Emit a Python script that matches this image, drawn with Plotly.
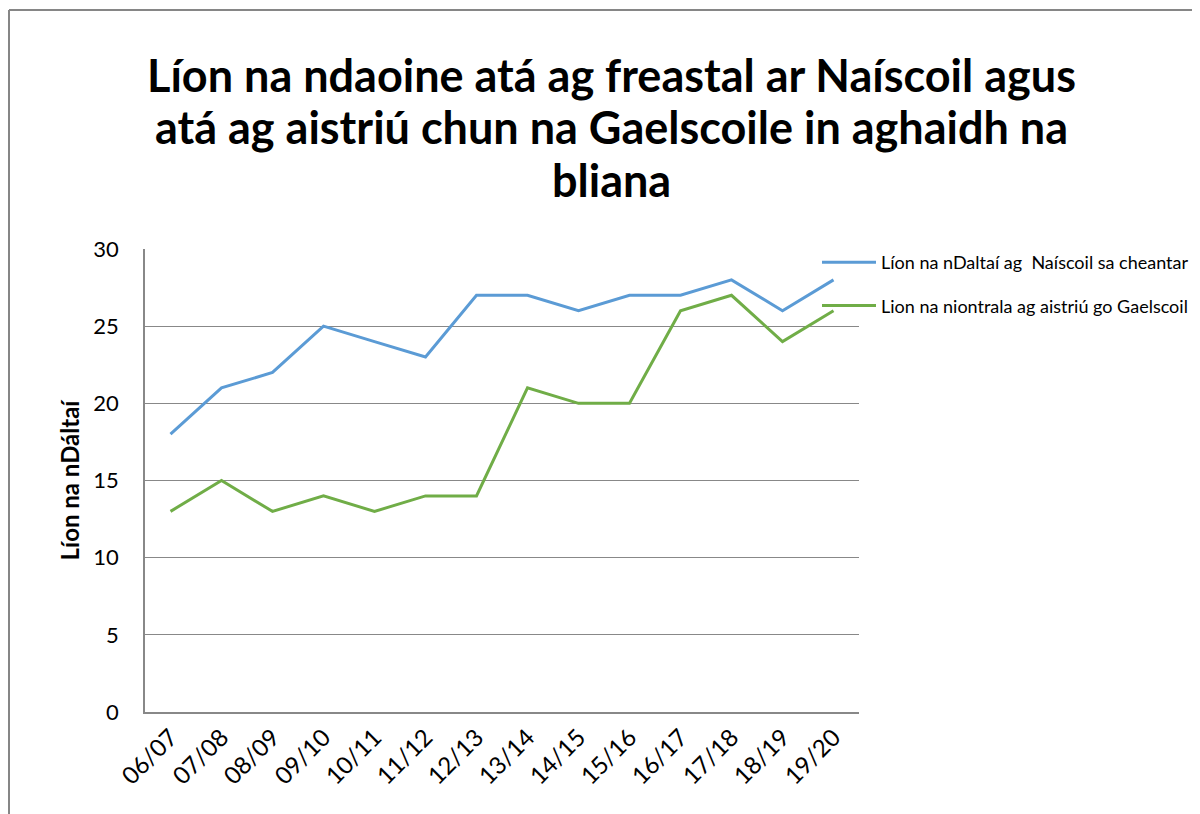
import plotly.graph_objects as go

years = ["06/07", "07/08", "08/09", "09/10", "10/11", "11/12", "12/13",
         "13/14", "14/15", "15/16", "16/17", "17/18", "18/19", "19/20"]
naiscoil = [18, 21, 22, 25, 24, 23, 27, 27, 26, 27, 27, 28, 26, 28]
aistriu = [13, 15, 13, 14, 13, 14, 14, 21, 20, 20, 26, 27, 24, 26]
y_ticks = [0, 5, 10, 15, 20, 25, 30]
title_lines = ["Líon na ndaoine atá ag freastal ar Naíscoil agus",
               "atá ag aistriú chun na Gaelscoile in aghaidh na",
               "bliana"]

# page has an 8px body margin, so figure coords = page coords - 8
W, H = 1192, 806
L, T = 137, 241
R, B = W - 851, H - 704
pw, ph = W - L - R, H - T - B

FONT = "Lato"

fig = go.Figure()
fig.add_trace(go.Scatter(x=years, y=naiscoil, mode="lines",
                         name="Líon na nDaltaí ag  Naíscoil sa cheantar",
                         legendgroup="a",
                         line=dict(color="#5B9BD5", width=3)))
fig.add_trace(go.Scatter(x=years, y=aistriu, mode="lines",
                         name="Lion na niontrala ag aistriú go Gaelscoil",
                         legendgroup="b",
                         line=dict(color="#70AD47", width=3)))

fig.update_layout(
    width=W, height=H,
    margin=dict(l=L, r=R, t=T, b=B, autoexpand=False),
    paper_bgcolor="white", plot_bgcolor="white",
    font=dict(family=FONT, color="black"),
    showlegend=True,
    legend=dict(x=(809 - L) / pw, y=1 - (236 - T) / ph, xanchor="left", yanchor="top",
                bgcolor="rgba(0,0,0,0)", font=dict(family=FONT, size=18, color="black"),
                tracegroupgap=17, itemwidth=54),
    xaxis=dict(type="category", showgrid=False, showline=True, linecolor="#888888",
               linewidth=1.5, tickangle=-45, tickfont=dict(size=24), ticks="",
               range=[-0.5, len(years) - 0.5]),
    yaxis=dict(range=[0, 30], tickvals=y_ticks, showgrid=True, gridcolor="#888888",
               gridwidth=1.2, showline=True, linecolor="#888888", linewidth=1.5,
               zeroline=False, tickfont=dict(size=22), ticks="", ticklabelstandoff=20,
               title=dict(text="<b>Líon na nDáltaí</b>", font=dict(size=24), standoff=7)),
)

centers = [67, 119, 172]
for txt, cy in zip(title_lines, centers):
    fig.add_annotation(text="<b>" + txt + "</b>", xref="paper", yref="paper",
                       x=(603 - L) / pw, y=1 + (T - cy) / ph, xanchor="center", yanchor="middle",
                       showarrow=False, font=dict(family=FONT, size=45, color="black"))

# outer chart border (left and top edges visible)
fig.add_shape(type="line", xref="paper", yref="paper",
              x0=(1 - L) / pw, x1=(1 - L) / pw, y0=-(H + 10 - T) / ph, y1=1 + (T - 2) / ph,
              line=dict(color="#868686", width=2))
fig.add_shape(type="line", xref="paper", yref="paper",
              x0=(1 - L) / pw, x1=(W + 10 - L) / pw, y0=1 + (T - 2) / ph, y1=1 + (T - 2) / ph,
              line=dict(color="#868686", width=2))

fig.write_html("out.html")
